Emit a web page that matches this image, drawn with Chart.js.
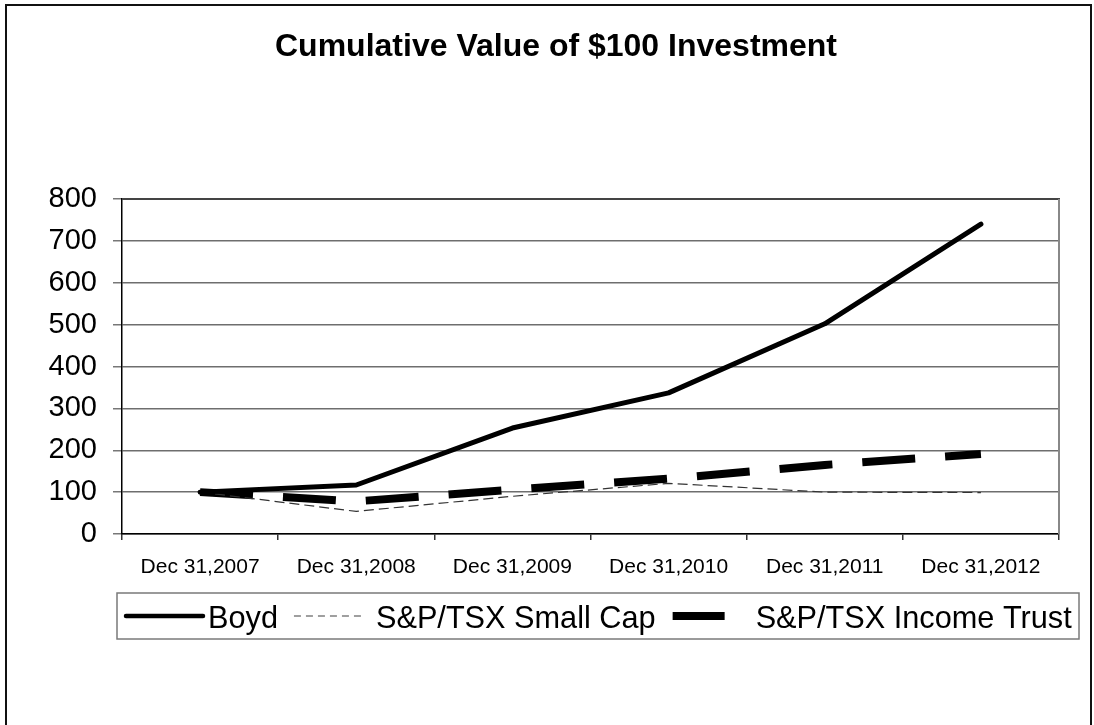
<!DOCTYPE html>
<html>
<head>
<meta charset="utf-8">
<title>Cumulative Value of $100 Investment</title>
<script src="https://cdn.jsdelivr.net/npm/chart.js@4"></script>
<style>
  html, body { margin: 0; padding: 0; background: #fff; }
  #wrap { width: 1094px; height: 725px; }
</style>
</head>
<body>
<div id="wrap"><canvas id="chart" width="1094" height="725"></canvas></div>
<script>
  // values
  var chartTitle = 'Cumulative Value of $100 Investment';
  var periods = ['Dec 31,2007', 'Dec 31,2008', 'Dec 31,2009', 'Dec 31,2010', 'Dec 31,2011', 'Dec 31,2012'];
  var boyd = [100, 117, 253, 337, 502, 740];
  var smallCap = [100, 54, 90, 121, 100, 99];
  var incomeTrust = [100, 78, 106, 132, 165, 191];
  var yMin = 0, yMax = 800, yStep = 100;

  var FONT = "Arial, 'Liberation Sans', sans-serif";

  // legend sample width / gap to text / gap after text, per series
  var legendLayout = [
    {sample: 77, gap: 5, after: 16, color: '#000', width: 4.5, dash: [], cap: 'round'},
    {sample: 70, gap: 12, after: 17, color: '#808080', width: 1.3, dash: [7, 5], cap: 'butt'},
    {sample: 52, gap: 31, after: 0, color: '#000', width: 8, dash: [], cap: 'butt'}
  ];

  var decorPlugin = {
    id: 'decor',
    afterDraw: function(chart) {
      var ctx = chart.ctx, a = chart.chartArea;
      ctx.save();
      // top and right side of the plot frame
      ctx.lineWidth = 2;
      ctx.strokeStyle = '#444';
      ctx.beginPath(); ctx.moveTo(a.left, a.top); ctx.lineTo(a.right + 1, a.top); ctx.stroke();
      ctx.strokeStyle = '#888';
      ctx.beginPath(); ctx.moveTo(a.right, a.top); ctx.lineTo(a.right, a.bottom); ctx.stroke();

      // outer frame of the whole picture
      ctx.strokeStyle = '#111';
      ctx.lineWidth = 2;
      ctx.strokeRect(6, 5, 1085, 740);

      // title
      ctx.fillStyle = '#000';
      ctx.font = 'bold 32px ' + FONT;
      ctx.textAlign = 'center';
      ctx.textBaseline = 'alphabetic';
      ctx.fillText(chartTitle, 556, 56);

      // legend box
      ctx.strokeStyle = '#7a7a7a';
      ctx.lineWidth = 1.5;
      ctx.strokeRect(117, 593, 962, 46);
      ctx.font = '30.7px ' + FONT;
      ctx.textAlign = 'left';
      var x = 126, ly = 616;
      chart.data.datasets.forEach(function(ds, i) {
        var L = legendLayout[i];
        ctx.beginPath();
        ctx.setLineDash(L.dash);
        ctx.lineCap = L.cap;
        ctx.lineWidth = L.width;
        ctx.strokeStyle = L.color;
        ctx.moveTo(x, ly); ctx.lineTo(x + L.sample, ly);
        ctx.stroke();
        ctx.setLineDash([]);
        x += L.sample + L.gap;
        ctx.fillStyle = '#000';
        ctx.fillText(ds.label, x, 628);
        x += ctx.measureText(ds.label).width + L.after;
      });
      ctx.restore();
    }
  };

  new Chart(document.getElementById('chart'), {
    type: 'line',
    data: {
      labels: periods,
      datasets: [{
        label: 'Boyd',
        data: boyd,
        borderColor: '#000',
        borderWidth: 5,
        borderJoinStyle: 'round',
        borderCapStyle: 'round'
      }, {
        label: 'S&P/TSX Small Cap',
        data: smallCap,
        borderColor: '#333',
        borderWidth: 1.2,
        borderDash: [10, 5]
      }, {
        label: 'S&P/TSX Income Trust',
        data: incomeTrust,
        borderColor: '#000',
        borderWidth: 8,
        borderDash: [53, 30],
        borderCapStyle: 'butt'
      }]
    },
    options: {
      responsive: false,
      animation: false,
      devicePixelRatio: 1,
      layout: { padding: { left: 0, right: 35, top: 199, bottom: 0 } },
      elements: {
        point: { radius: 0, hoverRadius: 0 },
        line: { tension: 0, fill: false }
      },
      plugins: {
        legend: { display: false },
        title: { display: false },
        tooltip: { enabled: false }
      },
      scales: {
        x: {
          type: 'category',
          offset: true,
          grid: { offset: true, drawOnChartArea: false, drawTicks: true, tickLength: 6, color: '#333', lineWidth: 1.5 },
          border: { color: '#000', width: 1.5 },
          ticks: { color: '#000', font: { family: FONT, size: 21 }, padding: 15, maxRotation: 0, autoSkip: false },
          afterFit: function(s) { s.height = 191; }
        },
        y: {
          min: yMin,
          max: yMax,
          ticks: { stepSize: yStep, color: '#000', font: { family: FONT, size: 29 }, padding: 16 },
          grid: { color: '#6e6e6e', lineWidth: 1.5, tickLength: 9, tickColor: '#777' },
          border: { color: '#000', width: 1.5 },
          afterFit: function(s) { s.width = 122; }
        }
      }
    },
    plugins: [decorPlugin]
  });
</script>
</body>
</html>
